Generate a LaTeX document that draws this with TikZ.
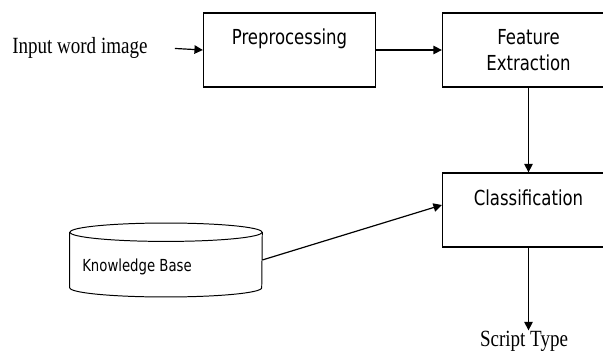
\documentclass[tikz,border=0pt]{standalone}
\usepackage{fontspec}
\usetikzlibrary{arrows.meta}
\newfontfamily\serifnarrow[FakeStretch=0.82]{Liberation Serif}
\newfontfamily\sansnarrow[FakeStretch=0.8]{DejaVu Sans}
\tikzset{
  stage/.style={draw, line width=0.9pt, inner sep=0pt, minimum width=4.3cm, minimum height=1.85cm,
    font=\sansnarrow\fontsize{14.7}{19}\selectfont},
  toptext/.style={text height=0.8cm, text depth=1.05cm},
  flow/.style={-{Triangle[length=6pt,width=6pt]}, line width=0.85pt},
  plain/.style={inner sep=0pt, font=\serifnarrow\fontsize{16.5}{18}\selectfont}
}
\begin{document}
\begin{tikzpicture}
\useasboundingbox (0,0) rectangle (15.075,-8.75);
\node [plain, anchor=base west] (input) at (0.3,-1.35) {Input word image};
\node [stage, toptext] (pre) at (7.2375,-1.25) {Preprocessing};
\node [stage, align=center] (feat) at (13.2125,-1.25) {Feature\\Extraction};
\node [stage, toptext] (cls) at (13.2125,-5.25) {Classification};
\node [minimum width=4.8cm, minimum height=1.835cm, inner sep=0pt] (kb) at (4.15,-6.5) {};
\node [anchor=base west, inner sep=0pt, font=\sansnarrow\fontsize{11.8}{14}\selectfont] (kbtext) at (2.05,-6.79) {Knowledge Base};
\node [plain, anchor=base] (out) at (13.1,-8.65) {Script Type};
% knowledge base drum
\draw [line width=0.7pt] ([yshift=-0.23cm]kb.north) ellipse (2.4cm and 0.23cm);
\draw [line width=0.7pt] ([yshift=-0.23cm]kb.north west) -- ([yshift=0.23cm]kb.south west)
  arc (180:360:2.4cm and 0.23cm) -- ([yshift=-0.23cm]kb.north east);
% connectors
\draw [flow] ([xshift=0.675cm]input.east) -- (pre.west);
\draw [flow] (pre.east) -- (feat.west);
\draw [flow] (feat.south) -- (cls.north);
\draw [flow] (kb.east) -- ([yshift=0.125cm]cls.west);
\draw [flow] (cls.south) -- (cls.south |- out.north);
\end{tikzpicture}
\end{document}
